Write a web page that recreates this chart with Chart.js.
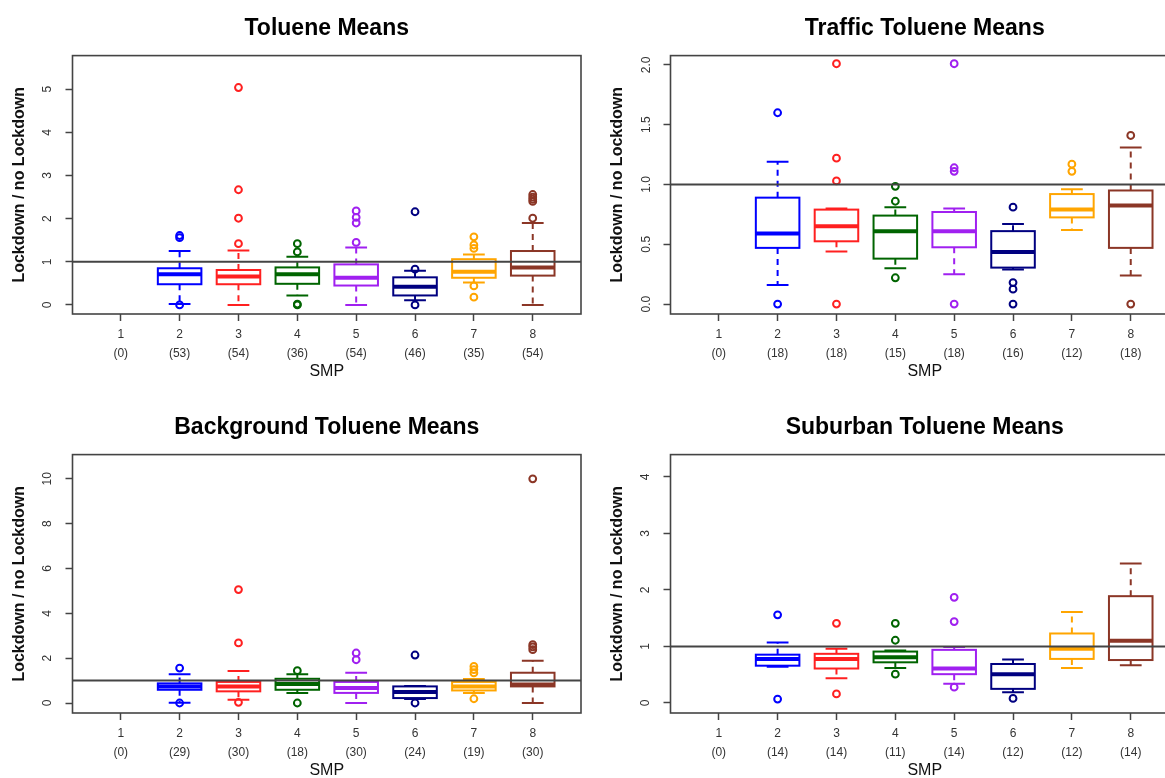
<!DOCTYPE html>
<html>
<head>
<meta charset="utf-8">
<script src="https://cdn.jsdelivr.net/npm/chart.js@4.4.1/dist/chart.umd.min.js"></script>
<style>
html, body { margin: 0; padding: 0; background: #fff; }
#wrap { position: relative; width: 1165px; height: 778px; overflow: hidden; background: #fff; }
#wrap canvas { position: absolute; }
</style>
</head>
<body>
<div id="wrap">
  <canvas id="cAll" width="598" height="390" style="left:0px;top:0px"></canvas>
  <canvas id="cTraffic" width="598" height="390" style="left:598px;top:0px"></canvas>
  <canvas id="cBackground" width="598" height="390" style="left:0px;top:399px"></canvas>
  <canvas id="cSuburban" width="598" height="390" style="left:598px;top:399px"></canvas>
</div>
<script>
// SMP categories
const smp = [1, 2, 3, 4, 5, 6, 7, 8];
const refLevel = 1;

// Toluene Means
const allN = [0, 53, 54, 36, 54, 46, 35, 54];
const allLow = [null, 0.02, 0.0, 0.22, 0.0, 0.11, 0.52, 0.0];
const allQ1 = [null, 0.48, 0.48, 0.49, 0.45, 0.22, 0.63, 0.68];
const allMed = [null, 0.71, 0.66, 0.71, 0.63, 0.42, 0.77, 0.87];
const allQ3 = [null, 0.85, 0.81, 0.87, 0.94, 0.64, 1.06, 1.25];
const allHigh = [null, 1.25, 1.26, 1.12, 1.33, 0.79, 1.17, 1.90];
const allOut = [[], [0.0, 1.56, 1.61], [1.42, 2.01, 2.67, 5.04], [0.0, 0.02, 1.23, 1.42],
    [1.45, 1.90, 2.03, 2.18], [0.0, 0.83, 2.16], [0.18, 0.44, 1.31, 1.39, 1.58], [2.01, 2.40, 2.45, 2.50, 2.56]];
const allTicks = [0, 1, 2, 3, 4, 5];

// Traffic Toluene Means
const trafficN = [0, 18, 18, 15, 18, 16, 12, 18];
const trafficLow = [null, 0.16, 0.44, 0.30, 0.25, 0.29, 0.62, 0.24];
const trafficQ1 = [null, 0.47, 0.525, 0.38, 0.475, 0.305, 0.725, 0.47];
const trafficMed = [null, 0.59, 0.65, 0.61, 0.61, 0.435, 0.79, 0.825];
const trafficQ3 = [null, 0.89, 0.79, 0.74, 0.77, 0.61, 0.92, 0.95];
const trafficHigh = [null, 1.19, 0.80, 0.81, 0.80, 0.67, 0.96, 1.31];
const trafficOut = [[], [0.0, 1.60], [0.0, 1.03, 1.22, 2.01], [0.22, 0.86, 0.985],
    [0.0, 1.11, 1.14, 2.01], [0.0, 0.125, 0.18, 0.81], [1.11, 1.17], [0.0, 1.41]];
const trafficTicks = [0, 0.5, 1, 1.5, 2];

// Background Toluene Means
const bgN = [0, 29, 30, 18, 30, 24, 19, 30];
const bgLow = [null, 0.01, 0.15, 0.45, 0.0, 0.18, 0.45, 0.0];
const bgQ1 = [null, 0.59, 0.52, 0.59, 0.45, 0.22, 0.56, 0.74];
const bgMed = [null, 0.74, 0.74, 0.85, 0.67, 0.49, 0.74, 0.82];
const bgQ3 = [null, 0.875, 0.94, 1.08, 0.94, 0.74, 0.94, 1.35];
const bgHigh = [null, 1.28, 1.43, 1.28, 1.35, 0.76, 1.07, 1.88];
const bgOut = [[], [0.0, 1.56], [0.03, 2.68, 5.06], [0.0, 1.44], [1.93, 2.23],
    [0.0, 2.14], [0.19, 1.34, 1.49, 1.63], [2.38, 2.5, 2.6, 10.0]];
const bgTicks = [0, 2, 4, 6, 8, 10];

// Suburban Toluene Means
const subN = [0, 14, 14, 11, 14, 12, 12, 14];
const subLow = [null, 0.64, 0.44, 0.62, 0.34, 0.19, 0.62, 0.67];
const subQ1 = [null, 0.66, 0.61, 0.72, 0.51, 0.25, 0.78, 0.76];
const subMed = [null, 0.78, 0.78, 0.81, 0.61, 0.51, 0.96, 1.10];
const subQ3 = [null, 0.855, 0.87, 0.91, 0.94, 0.69, 1.23, 1.89];
const subHigh = [null, 1.07, 0.96, 0.93, 0.99, 0.77, 1.61, 2.47];
const subOut = [[], [0.07, 1.56], [0.16, 1.41], [0.51, 1.11, 1.41], [0.28, 1.44, 1.87], [0.08], [], []];
const subTicks = [0, 1, 2, 3, 4];

const boxColors = ['#000000', '#0000ff', '#ff2020', '#006400', '#a020f0', '#000080', '#ffa500', '#8b3626'];

Chart.defaults.font.family = "'Liberation Sans', Arial, sans-serif";

const xMin = 0.18, xMax = 8.82;

function makeChart(id, title, n, low, q1, med, q3, high, out, yTicks, yMin, yMax, digits, labelPad) {
    var outPts = [];
    var outCols = [];
    for (var i = 0; i < out.length; i++) {
        for (var j = 0; j < out[i].length; j++) {
            outPts.push({ x: smp[i], y: out[i][j] });
            outCols.push(boxColors[i]);
        }
    }

    // boxes, whiskers and medians drawn through the chart scales
    var boxPlugin = {
        id: 'boxes',
        beforeDatasetsDraw(chart) {
            var ctx = chart.ctx, xs = chart.scales.x, ys = chart.scales.y, a = chart.chartArea;
            ctx.save();
            ctx.beginPath();
            ctx.rect(a.left, a.top, a.right - a.left, a.bottom - a.top);
            ctx.clip();
            for (var i = 0; i < smp.length; i++) {
                if (q1[i] === null) continue;
                var cx = xs.getPixelForValue(smp[i]);
                var hw = xs.getPixelForValue(smp[i] + 0.37) - cx;
                var cw = xs.getPixelForValue(smp[i] + 0.185) - cx;
                var yl = ys.getPixelForValue(low[i]), y1 = ys.getPixelForValue(q1[i]);
                var ym = ys.getPixelForValue(med[i]), y3 = ys.getPixelForValue(q3[i]);
                var yh = ys.getPixelForValue(high[i]);
                ctx.strokeStyle = boxColors[i];
                ctx.lineWidth = 2;
                ctx.setLineDash([6, 5]);
                ctx.beginPath();
                ctx.moveTo(cx, y3); ctx.lineTo(cx, yh);
                ctx.moveTo(cx, y1); ctx.lineTo(cx, yl);
                ctx.stroke();
                ctx.setLineDash([]);
                ctx.beginPath();
                ctx.moveTo(cx - cw, yh); ctx.lineTo(cx + cw, yh);
                ctx.moveTo(cx - cw, yl); ctx.lineTo(cx + cw, yl);
                ctx.stroke();
                ctx.strokeRect(cx - hw, y3, 2 * hw, y1 - y3);
                ctx.lineWidth = 4;
                ctx.beginPath();
                ctx.moveTo(cx - hw, ym); ctx.lineTo(cx + hw, ym);
                ctx.stroke();
            }
            ctx.restore();
        },
        afterDraw(chart) {
            var ctx = chart.ctx, a = chart.chartArea;
            ctx.save();
            ctx.strokeStyle = '#444';
            ctx.lineWidth = 1.6;
            ctx.strokeRect(a.left, a.top, a.right - a.left, a.bottom - a.top);
            ctx.restore();
        }
    };

    return new Chart(document.getElementById(id), {
        type: 'scatter',
        data: {
            datasets: [{
                type: 'line',
                label: 'no change',
                data: [{ x: xMin, y: refLevel }, { x: xMax, y: refLevel }],
                borderColor: '#444',
                borderWidth: 2,
                pointRadius: 0,
                order: 0
            }, {
                label: 'outliers',
                data: outPts,
                pointStyle: 'circle',
                pointRadius: 3.4,
                pointBorderWidth: 2,
                pointBorderColor: outCols,
                pointBackgroundColor: 'rgba(255,255,255,0)',
                order: 1
            }]
        },
        options: {
            responsive: false,
            animation: false,
            devicePixelRatio: 1,
            layout: { padding: { left: 0, right: 17, top: 0, bottom: 0 } },
            plugins: {
                legend: { display: false },
                tooltip: { enabled: false },
                title: {
                    display: true,
                    text: title,
                    fullSize: false,
                    color: '#000',
                    font: { size: 23, weight: 'bold' },
                    padding: { top: 15, bottom: 13 }
                }
            },
            scales: {
                x: {
                    type: 'linear',
                    min: xMin,
                    max: xMax,
                    afterBuildTicks: (s) => { s.ticks = smp.map((v) => ({ value: v })); },
                    afterFit: (s) => { s.height = 76; },
                    border: { display: false },
                    grid: { drawOnChartArea: false, tickLength: 7, tickWidth: 1.5, tickColor: '#444' },
                    ticks: {
                        autoSkip: false,
                        maxRotation: 0,
                        padding: 4.5,
                        color: '#333',
                        font: { size: 12, lineHeight: 1.58 },
                        callback: (v) => [String(v), '(' + n[v - 1] + ')']
                    },
                    title: {
                        display: true,
                        text: 'SMP',
                        color: '#111',
                        font: { size: 16 },
                        padding: { top: 0, bottom: 9 }
                    }
                },
                y: {
                    min: yMin,
                    max: yMax,
                    afterBuildTicks: (s) => { s.ticks = yTicks.map((v) => ({ value: v })); },
                    afterFit: (s) => { s.width = 72.5; },
                    border: { display: false },
                    grid: { drawOnChartArea: false, tickLength: 7, tickWidth: 1.5, tickColor: '#444' },
                    ticks: {
                        autoSkip: false,
                        minRotation: 90,
                        maxRotation: 90,
                        crossAlign: 'center',
                        padding: labelPad,
                        color: '#333',
                        font: { size: 12 },
                        callback: (v) => digits ? v.toFixed(1) : String(v)
                    },
                    title: {
                        display: true,
                        text: 'Lockdown / no Lockdown',
                        color: '#111',
                        font: { size: 16, weight: 'bold' },
                        padding: { top: 10, bottom: 0 }
                    }
                }
            }
        },
        plugins: [boxPlugin]
    });
}

makeChart('cAll', 'Toluene Means', allN, allLow, allQ1, allMed, allQ3, allHigh, allOut,
    allTicks, -0.21, 5.78, false, 14.5);
makeChart('cTraffic', 'Traffic Toluene Means', trafficN, trafficLow, trafficQ1, trafficMed, trafficQ3, trafficHigh, trafficOut,
    trafficTicks, -0.083, 2.078, true, 8.5);
makeChart('cBackground', 'Background Toluene Means', bgN, bgLow, bgQ1, bgMed, bgQ3, bgHigh, bgOut,
    bgTicks, -0.446, 11.08, false, 11.1);
makeChart('cSuburban', 'Suburban Toluene Means', subN, subLow, subQ1, subMed, subQ3, subHigh, subOut,
    subTicks, -0.177, 4.395, false, 14.5);
</script>
</body>
</html>
